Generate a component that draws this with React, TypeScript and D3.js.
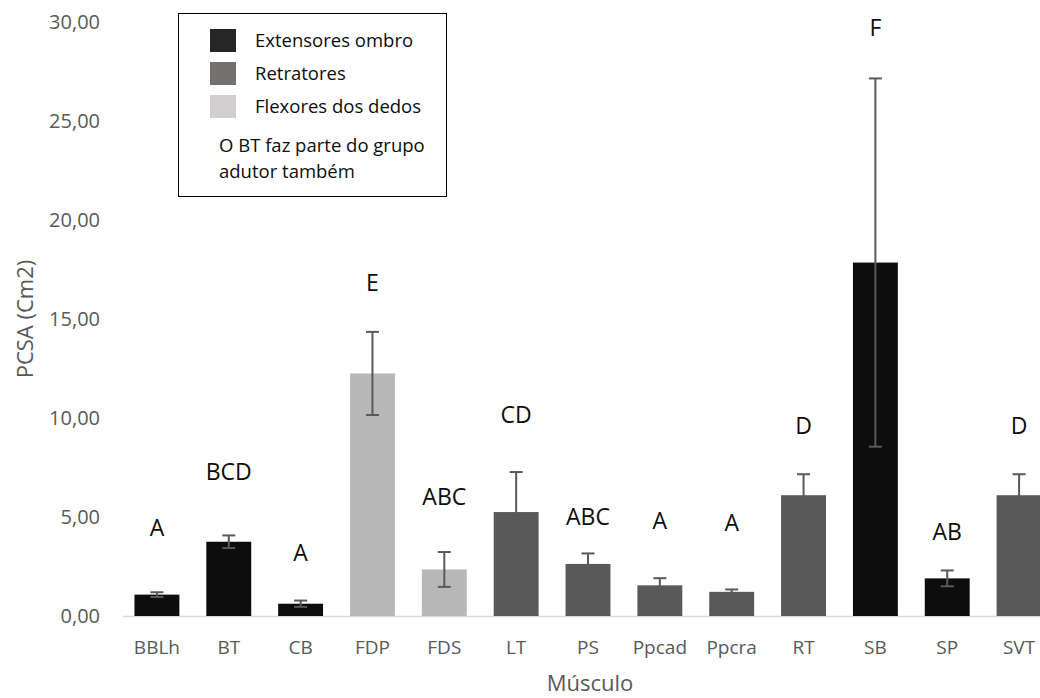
import React from "react";
import * as d3 from "d3";

const categories = ["BBLh", "BT", "CB", "FDP", "FDS", "LT", "PS", "Ppcad", "Ppcra", "RT", "SB", "SP", "SVT"];
const means = [1.08, 3.75, 0.62, 12.25, 2.35, 5.25, 2.63, 1.55, 1.22, 6.1, 17.85, 1.9, 6.1];
const errors = [0.12, 0.32, 0.16, 2.1, 0.88, 2.02, 0.53, 0.36, 0.12, 1.06, 9.3, 0.4, 1.06];
const groups = ["ext", "ext", "ext", "flex", "flex", "ret", "ret", "ret", "ret", "ret", "ext", "ext", "ret"];
const letters = ["A", "BCD", "A", "E", "ABC", "CD", "ABC", "A", "A", "D", "F", "AB", "D"];
const letterLevels = [4.45, 7.3, 3.2, 16.8, 6.0, 10.15, 5.0, 4.8, 4.7, 9.6, 29.7, 4.25, 9.6];
const yTicks = [0, 5, 10, 15, 20, 25, 30];
const legendItems = [
  { key: "ext", label: "Extensores ombro" },
  { key: "ret", label: "Retratores" },
  { key: "flex", label: "Flexores dos dedos" },
];
const legendNote = ["O BT faz parte do grupo", "adutor também"];

const barColor: Record<string, string> = { ext: "#0d0d0d", ret: "#595959", flex: "#b8b8b8" };
const legendColor: Record<string, string> = { ext: "#262626", ret: "#767171", flex: "#d0cece" };

const W = 1040;
const H = 698;
const FONT = "'Open Sans', 'Noto Sans', sans-serif";

export default function App() {
  const x = d3.scaleBand<string>().domain(categories).range([121, 1055]).paddingInner(0.375).paddingOuter(0.1875);
  const y = d3.scaleLinear().domain([0, 30]).range([616, 22]);
  const fmt = (v: number) => v.toFixed(2).replace(".", ",");
  const bw = x.bandwidth();

  return (
    <svg width={W} height={H} style={{ position: "absolute", left: 0, top: 0, background: "#fff" }} fontFamily={FONT}>
      {yTicks.map((t) => (
        <text key={t} x={100} y={y(t)} dy="0.35em" textAnchor="end" fontSize={20} fill="#595959">
          {fmt(t)}
        </text>
      ))}
      <line x1={123} x2={W} y1={y(0) + 0.5} y2={y(0) + 0.5} stroke="#d9d9d9" strokeWidth={1.5} />
      {categories.map((c, i) => {
        const cx = (x(c) as number) + bw / 2;
        return (
          <g key={c}>
            <rect x={x(c)} y={y(means[i])} width={bw} height={y(0) - y(means[i])} fill={barColor[groups[i]]} />
            <line x1={cx} x2={cx} y1={y(means[i] + errors[i])} y2={y(means[i] - errors[i])} stroke="#595959" strokeWidth={2} />
            <line x1={cx - 6.5} x2={cx + 6.5} y1={y(means[i] + errors[i])} y2={y(means[i] + errors[i])} stroke="#595959" strokeWidth={2} />
            <line x1={cx - 6.5} x2={cx + 6.5} y1={y(means[i] - errors[i])} y2={y(means[i] - errors[i])} stroke="#595959" strokeWidth={2} />
            <text x={cx} y={y(letterLevels[i])} dy="0.35em" textAnchor="middle" fontSize={23} fill="#0d0d0d">
              {letters[i]}
            </text>
            <text x={cx} y={647} dy="0.35em" textAnchor="middle" fontSize={19} fill="#595959">
              {c}
            </text>
          </g>
        );
      })}
      <text transform={`translate(25,${y(15)}) rotate(-90)`} textAnchor="middle" dy="0.35em" fontSize={22} fill="#595959">
        PCSA (Cm2)
      </text>
      <text x={590} y={683} dy="0.35em" textAnchor="middle" fontSize={22} fill="#595959">
        Músculo
      </text>
      <g>
        <rect x={178.5} y={13.5} width={268} height={183} fill="#fff" stroke="#000" strokeWidth={1} />
        {legendItems.map((it, i) => (
          <g key={it.key}>
            <rect x={210} y={29 + i * 33} width={26} height={23} fill={legendColor[it.key]} />
            <text x={255} y={41 + i * 33} dy="0.35em" fontSize={18.5} fill="#0d0d0d">
              {it.label}
            </text>
          </g>
        ))}
        {legendNote.map((t, i) => (
          <text key={t} x={219} y={146 + i * 26} dy="0.35em" fontSize={18.5} fill="#0d0d0d">
            {t}
          </text>
        ))}
      </g>
    </svg>
  );
}
